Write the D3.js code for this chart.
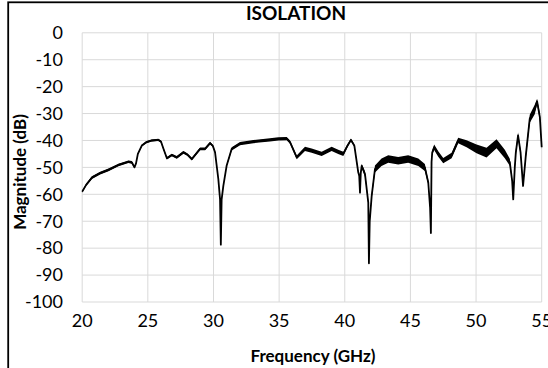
<!DOCTYPE html>
<html>
<head>
<meta charset="utf-8">
<script src="https://cdn.jsdelivr.net/npm/d3@7"></script>
<style>
    body { margin: 0; background: #fff; }
    svg { display: block; font-family: Lato, "Open Sans", sans-serif; }
</style>
</head>
<body>
<div id="chart"></div>
<script>
// values (GHz, dB) and the visible noise spread (+/- dB)
const freqGHz = [
    20.0, 20.3, 20.74, 21.37, 22.0, 22.76, 23.52, 23.78, 23.98, 24.1,
    24.24, 24.54, 24.9, 25.3, 25.8, 26.0, 26.19, 26.45, 26.83, 27.2,
    27.71, 28.0, 28.35, 28.98, 29.36, 29.74, 29.95, 30.12, 30.37, 30.5,
    30.56, 30.62, 30.75, 31.0, 31.39, 32.02, 33.04, 34.3, 34.94, 35.58,
    35.83, 36.34, 36.97, 37.48, 38.24, 39.0, 39.5, 39.89, 40.2, 40.47,
    40.73, 41.03, 41.1, 41.16, 41.22, 41.29, 41.54, 41.79, 41.84, 41.9,
    42.05, 42.3, 42.8, 43.31, 44.07, 44.83, 45.6, 46.1, 46.36, 46.5,
    46.56, 46.61, 46.66, 46.81, 47.12, 47.5, 48.14, 48.64, 49.28, 50.04,
    50.8, 51.56, 52.19, 52.57, 52.75, 52.83, 52.95, 53.03, 53.2, 53.39,
    53.58, 53.79, 54.09, 54.47, 54.65, 54.86, 55.0
];
const magDb = [
    -59.0, -56.5, -53.8, -52.1, -50.9, -49.1, -47.9, -48.1, -50.0, -48.5,
    -45.0, -41.9, -40.6, -40.0, -39.8, -40.4, -43.1, -46.6, -45.4, -46.3,
    -44.4, -45.2, -46.9, -43.1, -43.1, -41.0, -42.0, -44.4, -54.4, -61.9,
    -78.7, -62.0, -56.9, -49.4, -43.1, -41.2, -40.4, -39.8, -39.4, -39.3,
    -40.6, -46.3, -43.1, -43.8, -45.0, -43.1, -44.2, -45.0, -42.0, -39.8,
    -41.9, -51.9, -53.0, -59.4, -52.0, -49.4, -52.5, -63.1, -85.6, -70.0,
    -60.6, -50.6, -48.1, -46.9, -47.5, -46.9, -48.1, -50.0, -55.6, -65.0,
    -74.4, -48.0, -44.5, -42.5, -45.0, -47.5, -45.6, -40.0, -41.2, -43.1,
    -44.5, -41.2, -45.0, -48.1, -55.0, -61.9, -50.0, -44.4, -38.1, -44.4,
    -56.9, -45.6, -31.9, -28.5, -25.5, -31.3, -42.5
];
const spreadDb = [
    0.4, 0.4, 0.5, 0.5, 0.5, 0.5, 0.5, 0.5, 0.3, 0.3,
    0.3, 0.3, 0.4, 0.4, 0.4, 0.4, 0.4, 0.5, 0.5, 0.5,
    0.5, 0.5, 0.5, 0.5, 0.5, 0.5, 0.4, 0.3, 0.2, 0.1,
    0.1, 0.1, 0.2, 0.4, 0.6, 0.6, 0.6, 0.6, 0.6, 0.6,
    0.6, 0.7, 0.8, 0.8, 0.8, 0.8, 0.8, 0.8, 0.6, 0.5,
    0.5, 0.6, 0.6, 0.4, 0.6, 0.8, 1.0, 0.8, 0.2, 0.4,
    1.0, 1.3, 1.4, 1.4, 1.4, 1.4, 1.4, 1.3, 0.8, 0.4,
    0.2, 0.4, 0.8, 1.0, 1.0, 1.0, 1.0, 1.0, 1.3, 1.6,
    1.8, 1.7, 1.6, 1.3, 0.6, 0.3, 0.8, 1.1, 1.1, 1.0,
    0.5, 1.1, 1.5, 1.8, 1.0, 1.3, 0.8
];
const xTicks = [20, 25, 30, 35, 40, 45, 50, 55];
const yTicks = [0, -10, -20, -30, -40, -50, -60, -70, -80, -90, -100];

function createIsolationChart(selector = "#chart") {
    const width = 548;
    const height = 368;
    const margin = { top: 32.8, right: 6.3, bottom: 66, left: 82.2 };

    const data = freqGHz.map((f, i) => ({ f: f, db: magDb[i], s: spreadDb[i] }));

    const svg = d3.select(selector)
        .html("")
        .append("svg")
        .attr("width", width)
        .attr("height", height);

    const x = d3.scaleLinear()
        .domain([20, 55])
        .range([margin.left, width - margin.right]);

    const y = d3.scaleLinear()
        .domain([-100, 0])
        .range([height - margin.bottom, margin.top]);

    // chart frame (runs off the right and bottom edge like the reference)
    svg.append("rect")
        .attr("x", 8.2)
        .attr("y", 2.3)
        .attr("width", 700)
        .attr("height", 500)
        .attr("fill", "none")
        .attr("stroke", "#000")
        .attr("stroke-width", 1.8);

    // grid
    svg.append("g")
        .selectAll("line")
        .data(xTicks)
        .join("line")
        .attr("x1", d => x(d))
        .attr("x2", d => x(d))
        .attr("y1", y(0))
        .attr("y2", y(-100))
        .attr("stroke", "#d9d9d9")
        .attr("stroke-width", 1);

    svg.append("g")
        .selectAll("line")
        .data(yTicks)
        .join("line")
        .attr("x1", x(20))
        .attr("x2", x(55))
        .attr("y1", d => y(d))
        .attr("y2", d => y(d))
        .attr("stroke", "#d9d9d9")
        .attr("stroke-width", 1);

    // tick labels
    svg.append("g")
        .selectAll("text")
        .data(yTicks)
        .join("text")
        .attr("x", 63)
        .attr("y", d => y(d))
        .attr("dy", "0.35em")
        .attr("text-anchor", "end")
        .style("font-size", "18px")
        .style("fill", "#000")
        .text(d => d === 0 ? "0" : "-" + Math.abs(d));

    svg.append("g")
        .selectAll("text")
        .data(xTicks)
        .join("text")
        .attr("x", d => x(d))
        .attr("y", 327)
        .attr("text-anchor", "middle")
        .style("font-size", "18px")
        .style("fill", "#000")
        .text(d => d);

    // titles
    svg.append("text")
        .attr("x", 296)
        .attr("y", 20)
        .attr("text-anchor", "middle")
        .style("font-size", "19px")
        .style("font-weight", "bold")
        .text("ISOLATION");

    svg.append("text")
        .attr("x", 313)
        .attr("y", 362)
        .attr("text-anchor", "middle")
        .style("font-size", "17px")
        .style("font-weight", "bold")
        .text("Frequency (GHz)");

    svg.append("text")
        .attr("transform", "rotate(-90)")
        .attr("x", -172)
        .attr("y", 26)
        .attr("text-anchor", "middle")
        .style("font-size", "17px")
        .style("font-weight", "bold")
        .text("Magnitude (dB)");

    // noise band + trace
    const band = d3.area()
        .x(d => x(d.f))
        .y0(d => y(d.db - d.s))
        .y1(d => y(d.db + d.s));

    svg.append("path")
        .datum(data)
        .attr("d", band)
        .attr("fill", "#000");

    const line = d3.line()
        .x(d => x(d.f))
        .y(d => y(d.db));

    svg.append("path")
        .datum(data)
        .attr("d", line)
        .attr("fill", "none")
        .attr("stroke", "#000")
        .attr("stroke-width", 1.8)
        .attr("stroke-linejoin", "round");
}

createIsolationChart();
</script>
</body>
</html>
